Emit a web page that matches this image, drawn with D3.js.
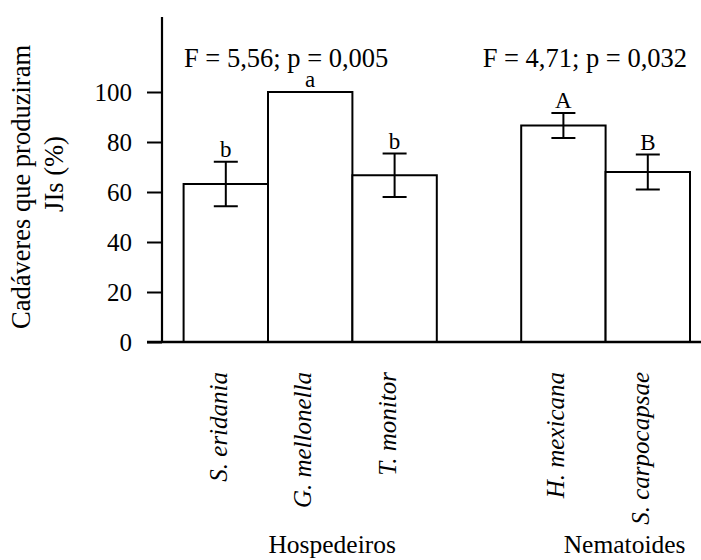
<!DOCTYPE html>
<html><head><meta charset="utf-8">
<script src="https://cdn.jsdelivr.net/npm/d3@7"></script>
<style>
html,body{margin:0;padding:0;background:#fff;}
svg{display:block;font-family:"Liberation Serif","Times New Roman",serif;}
</style></head>
<body>
<svg id="chart" width="701" height="560"></svg>
<script>
// ---- data ----
const groups = ["Hospedeiros", "Nematoides"];
const categories = ["S. eridania", "G. mellonella", "T. monitor", "H. mexicana", "S. carpocapsae"];
const categoryGroup = ["Hospedeiros", "Hospedeiros", "Hospedeiros", "Nematoides", "Nematoides"];
const values = [63.2, 100, 66.7, 86.6, 68.0];
const errors = [8.9, 0, 8.7, 5.0, 7.0];
const letters = ["b", "a", "b", "A", "B"];
const statTexts = ["F = 5,56; p = 0,005", "F = 4,71; p = 0,032"];
const yTicks = [0, 20, 40, 60, 80, 100];
const yTitle = ["Cadáveres que produziram", "JIs (%)"];

const svg = d3.select("#chart");

// slot domain with a spacer between groups
const slots = [];
categories.forEach((c, i) => {
  if (i > 0 && categoryGroup[i] !== categoryGroup[i - 1]) slots.push("__gap" + i);
  slots.push(c);
});

const x = d3.scaleBand().domain(slots).range([183.6, 690]).padding(0);
const y = d3.scaleLinear().domain([0, 130]).range([342, 17]);
const axisX = 162;

// y axis
const yAxis = d3.axisLeft(y).tickValues(yTicks).tickSize(15).tickPadding(15).tickFormat(d3.format("d"));
const gy = svg.append("g").attr("transform", `translate(${axisX},0)`).call(yAxis);
gy.select(".domain").remove();
gy.selectAll(".tick line").attr("stroke", "#000").attr("stroke-width", 2);
gy.selectAll(".tick text").attr("font-size", 25).attr("fill", "#000")
  .style("font-family", '"Liberation Serif","Times New Roman",serif');
svg.append("line").attr("x1", axisX).attr("x2", axisX).attr("y1", y(130)).attr("y2", y(0))
  .attr("stroke", "#000").attr("stroke-width", 2.2);

// bars
const data = categories.map((c, i) => ({c, v: values[i], e: errors[i], l: letters[i], g: categoryGroup[i]}));
svg.append("g").selectAll("rect").data(data).join("rect")
  .attr("x", d => x(d.c)).attr("width", x.bandwidth())
  .attr("y", d => y(d.v)).attr("height", d => y(0) - y(d.v))
  .attr("fill", "#fff").attr("stroke", "#000").attr("stroke-width", 2);

// baseline
svg.append("line").attr("x1", axisX - 15).attr("x2", 701).attr("y1", y(0)).attr("y2", y(0))
  .attr("stroke", "#000").attr("stroke-width", 2.4);

// error bars
const cap = 12;
const eg = svg.append("g").attr("stroke", "#000").attr("stroke-width", 2);
data.filter(d => d.e > 0).forEach(d => {
  const cx = x(d.c) + x.bandwidth() / 2;
  eg.append("line").attr("x1", cx).attr("x2", cx).attr("y1", y(d.v + d.e)).attr("y2", y(d.v - d.e));
  eg.append("line").attr("x1", cx - cap).attr("x2", cx + cap).attr("y1", y(d.v + d.e)).attr("y2", y(d.v + d.e));
  eg.append("line").attr("x1", cx - cap).attr("x2", cx + cap).attr("y1", y(d.v - d.e)).attr("y2", y(d.v - d.e));
});

// significance letters
svg.append("g").selectAll("text").data(data).join("text")
  .attr("x", d => x(d.c) + x.bandwidth() / 2)
  .attr("y", d => y(d.v + d.e) - 5)
  .attr("text-anchor", "middle").attr("font-size", 23).attr("fill", "#000")
  .text(d => d.l);

// stat texts
const statX = [184, 482.7];
svg.append("g").selectAll("text").data(statTexts).join("text")
  .attr("x", (d, i) => statX[i]).attr("y", 66.5)
  .attr("font-size", 26.5).attr("fill", "#000").text(d => d);

// x category labels (rotated)
svg.append("g").selectAll("text").data(data).join("text")
  .attr("transform", d => `translate(${x(d.c) + x.bandwidth() / 2 + 1},372) rotate(-90)`)
  .attr("text-anchor", "end").attr("font-size", 25).attr("font-style", "italic").attr("fill", "#000")
  .text(d => d.c);

// group labels
const groupOffset = {"Hospedeiros": 22, "Nematoides": 19};
svg.append("g").selectAll("text").data(groups).join("text")
  .attr("x", g => {
    const cs = data.filter(d => d.g === g);
    return (x(cs[0].c) + x(cs[cs.length - 1].c) + x.bandwidth()) / 2 + groupOffset[g];
  })
  .attr("y", 553).attr("text-anchor", "middle").attr("font-size", 25.5).attr("fill", "#000")
  .text(g => g);

// y title
svg.append("text").attr("transform", "translate(30,187) rotate(-90)")
  .attr("text-anchor", "middle").attr("font-size", 26.5).attr("fill", "#000").text(yTitle[0]);
svg.append("text").attr("transform", "translate(63,174) rotate(-90)")
  .attr("text-anchor", "middle").attr("font-size", 26.5).attr("fill", "#000").text(yTitle[1]);
</script>
</body></html>
